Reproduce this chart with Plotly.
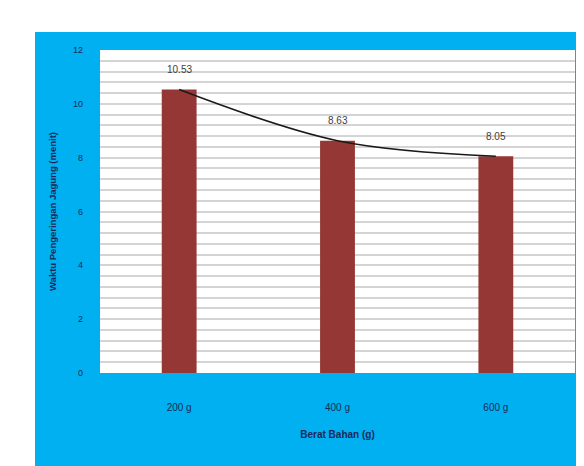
import plotly.graph_objects as go

categories = ["200 g", "400 g", "600 g"]
values = [10.53, 8.63, 8.05]
value_labels = ["10.53", "8.63", "8.05"]
y_ticks = [0, 2, 4, 6, 8, 10, 12]

# page is shown with an 8px body margin, so figure coords = page coords - 8
OFF = 8
W, H = 584, 466
L, T = 100 - OFF, 50 - OFF
R = W - (575 - OFF)
B = H - (373 - OFF)

navy = "#1b2a5a"
blue = "#00b0f0"
font = "Liberation Sans Narrow, Liberation Sans, Arial"

fig = go.Figure()
fig.add_trace(go.Bar(
    x=categories, y=values, marker=dict(color="#953735", line=dict(width=0)),
    showlegend=False,
))
fig.add_trace(go.Scatter(
    x=categories, y=values, mode="lines",
    line=dict(color="#1a1a1a", width=1.5, shape="spline", smoothing=1.0),
    showlegend=False, hoverinfo="skip",
))
for c, v, t in zip(categories, values, value_labels):
    fig.add_annotation(x=c, y=v, text=t, showarrow=False, yshift=20,
                       font=dict(size=10, color="#404040", family=font))

white_strips = [
    (0, 35 - OFF, 0, H),            # left
    (0, W, 0, 32 - OFF),            # top
    (579 - OFF, W, 0, H),           # right
]
shapes = [dict(type="rect", xref="paper", yref="paper", layer="above",
               x0=(x0 - L) / (W - L - R), x1=(x1 - L) / (W - L - R),
               y0=(H - B - y1) / (H - T - B), y1=(H - B - y0) / (H - T - B),
               fillcolor="white", line=dict(width=0))
          for x0, x1, y0, y1 in white_strips]

fig.update_layout(
    width=W, height=H,
    margin=dict(l=L, r=R, t=T, b=B),
    paper_bgcolor=blue, plot_bgcolor="white",
    bargap=0.78,
    shapes=shapes,
    xaxis=dict(
        showgrid=False, showline=False, ticks="",
        tickfont=dict(size=10, color=navy, family=font),
        ticklabelstandoff=27,
        title=dict(text="<b>Berat Bahan (g)</b>", font=dict(size=10, color=navy, family=font), standoff=18),
    ),
    yaxis=dict(
        range=[0, 12], tickvals=y_ticks, showline=False, ticks="",
        gridcolor="#d4d4d4", gridwidth=1.5, zeroline=False,
        minor=dict(dtick=0.4, showgrid=True, gridcolor="#d4d4d4", gridwidth=1.5),
        tickfont=dict(size=9, color=navy, family=font),
        ticklabelstandoff=16,
        title=dict(text="<b>Waktu Pengeringan Jagung (menit)</b>", font=dict(size=9.5, color=navy, family=font), standoff=14),
    ),
)

fig.write_html("out.html")
